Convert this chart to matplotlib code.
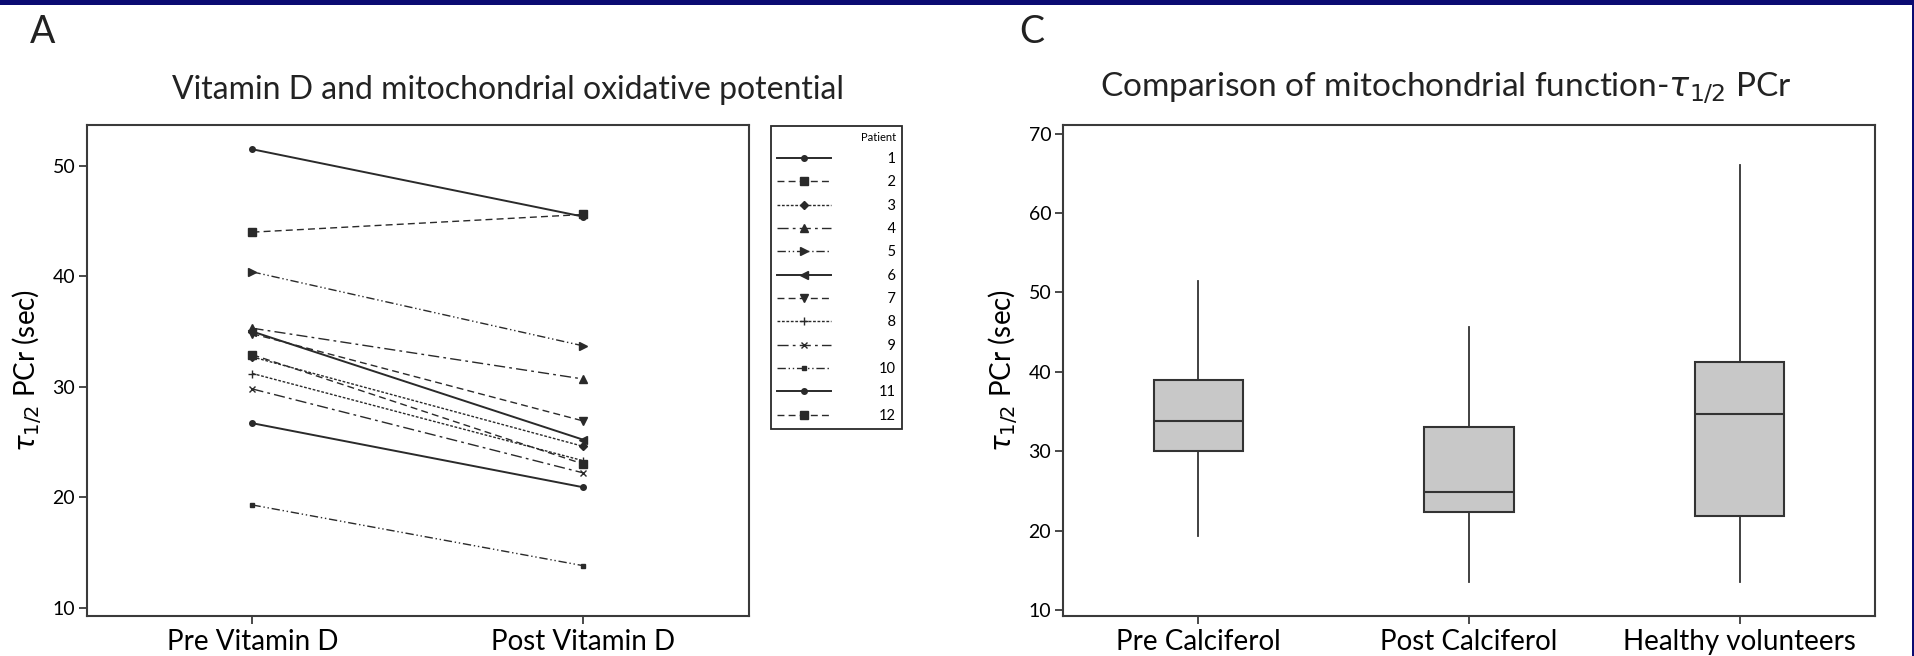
import matplotlib
matplotlib.use('Agg')
import matplotlib.pyplot as plt
from matplotlib.patches import Rectangle

plt.rcParams['font.family'] = ['Lato', 'DejaVu Sans']
plt.rcParams['mathtext.fontset'] = 'dejavusans'

# panel A: paired values per patient
patients = list(range(1, 13))
phase_labels = ['Pre Vitamin D', 'Post Vitamin D']
pre_vitd = [51.5, 44.0, 32.7, 35.3, 40.4, 35.0, 34.8, 31.2, 29.8, 19.3, 26.7, 32.9]
post_vitd = [45.4, 45.6, 24.6, 30.7, 33.7, 25.2, 26.9, 23.3, 22.2, 13.8, 20.9, 23.0]

# panel C: box summaries
box_groups = ['Pre Calciferol', 'Post Calciferol', 'Healthy volunteers']
whis_lo = [19.3, 13.5, 13.5]
q1 = [30.0, 22.3, 21.8]
medians = [33.8, 24.9, 34.7]
q3 = [39.0, 33.0, 41.3]
whis_hi = [51.4, 45.7, 66.0]

# minitab-like symbol / line cycles
markers = ['o', 's', 'D', '^', '>', '<', 'v', '+', 'x', 's', 'o', 's']
msizes = [4, 6, 4, 6, 6, 6, 6, 6, 5, 3, 4, 6]
dashes = [None, (5, 3), (2, 1.2), (8, 3, 2, 3), (6, 2, 1, 2, 1, 2)]

ink = '#2a2a2a'
fig = plt.figure(figsize=(19.15, 6.56), dpi=100)

# ---- panel A
ax1 = fig.add_axes([87/1915, 1-616/656, 662/1915, 491/656])
x = list(range(len(phase_labels)))
handles = []
for i, p in enumerate(patients):
    d = dashes[i % 5]
    line, = ax1.plot(x, [pre_vitd[i], post_vitd[i]], color=ink,
                     lw=1.4 if d is None else 1.0,
                     marker=markers[i], ms=msizes[i], mew=1.0, mfc=ink, mec=ink)
    if d is not None:
        line.set_dashes(d)
    handles.append(line)

ax1.set_xlim(-0.5, 1.5)
ax1.set_ylim(9.25, 53.7)
ax1.set_xticks(x)
ax1.set_xticklabels(phase_labels, fontsize=20)
ax1.set_yticks([10, 20, 30, 40, 50])
ax1.tick_params(axis='y', labelsize=14, length=5.5, width=1.2, color=ink, pad=3)
ax1.tick_params(axis='x', length=5.5, width=1.2, color=ink, pad=4)
ax1.set_ylabel(r'$\tau_{1/2}$ PCr (sec)', fontsize=20, labelpad=6)
for s in ax1.spines.values():
    s.set_linewidth(1.5)
    s.set_color('#3a3a3a')

labels = [f'{p:>2}'.replace(' ', '\u2007') for p in patients]
leg = fig.legend(handles, labels, loc='upper left',
                 bbox_to_anchor=(771/1915, 1-126/656), bbox_transform=fig.transFigure,
                 fancybox=False, edgecolor=ink, framealpha=1, title='Patient',
                 title_fontsize=8, fontsize=10.5, handlelength=3.7, handletextpad=3.3,
                 labelspacing=0.64, borderpad=0.4, borderaxespad=0, numpoints=1,
                 alignment='right')
leg.get_frame().set_linewidth(1.3)

fig.text(508/1915, 1-90/656, 'Vitamin D and mitochondrial oxidative potential',
         fontsize=23, ha='center', va='center', color='#222')
fig.text(43/1915, 1-32/656, 'A', fontsize=27, ha='center', va='center', color='#222')

# ---- panel C
ax2 = fig.add_axes([1063/1915, 1-616/656, 812/1915, 491/656])
stats = []
for i, g in enumerate(box_groups):
    stats.append({'label': g, 'whislo': whis_lo[i], 'q1': q1[i], 'med': medians[i],
                  'q3': q3[i], 'whishi': whis_hi[i], 'fliers': []})
pos = list(range(1, len(box_groups) + 1))
ax2.bxp(stats, positions=pos, widths=0.33, patch_artist=True, showcaps=False,
        showfliers=False,
        boxprops=dict(facecolor='#c8c8c8', edgecolor='#333', linewidth=1.5),
        medianprops=dict(color='#333', linewidth=1.5),
        whiskerprops=dict(color='#333', linewidth=1.3))
ax2.set_xlim(0.5, 3.5)
ax2.set_ylim(9.24, 71.1)
ax2.set_yticks([10, 20, 30, 40, 50, 60, 70])
ax2.set_xticks(pos)
ax2.set_xticklabels(box_groups, fontsize=20)
ax2.tick_params(axis='y', labelsize=14, length=5.5, width=1.2, color=ink, pad=3)
ax2.tick_params(axis='x', length=5.5, width=1.2, color=ink, pad=4)
ax2.set_ylabel(r'$\tau_{1/2}$ PCr (sec)', fontsize=20, labelpad=6)
for s in ax2.spines.values():
    s.set_linewidth(1.5)
    s.set_color('#3a3a3a')

fig.text(1446/1915, 1-88/656, r'Comparison of mitochondrial function-$\tau_{1/2}$ PCr',
         fontsize=24, ha='center', va='center', color='#222')
fig.text(1032/1915, 1-32/656, 'C', fontsize=27, ha='center', va='center', color='#222')

# slide border
fig.add_artist(Rectangle((0, 1-5/656), 1, 5/656, transform=fig.transFigure,
                         color='#0b0b72', lw=0))
fig.add_artist(Rectangle((1-3/1915, 0), 3/1915, 1, transform=fig.transFigure,
                         color='#0b0b72', lw=0))

fig.savefig('out.png', dpi=100)
